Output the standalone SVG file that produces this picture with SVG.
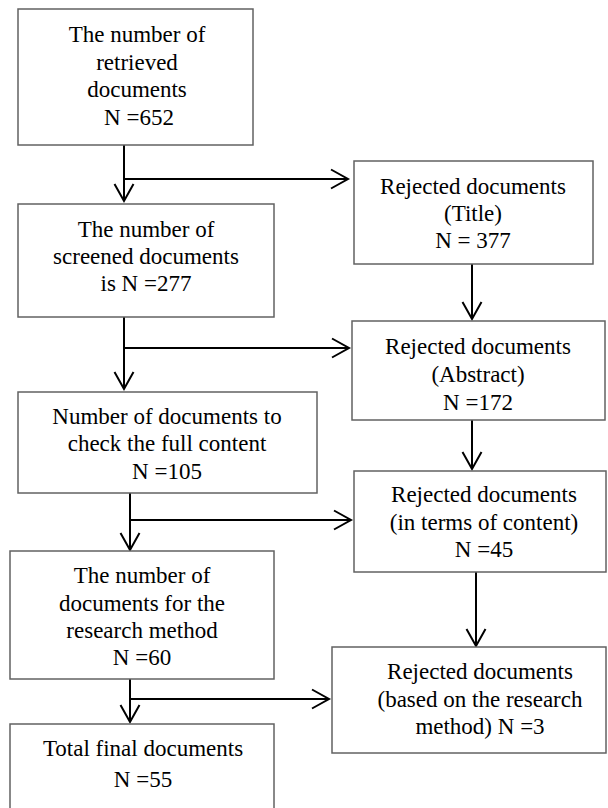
<svg xmlns="http://www.w3.org/2000/svg" width="608" height="808" viewBox="0 0 608 808">
<style>
.box{fill:#fff;stroke:#626262;stroke-width:1.5}
.c{stroke:#000;stroke-width:2;fill:none}
</style>
<defs>
<marker id="ah" markerUnits="userSpaceOnUse" markerWidth="24" markerHeight="24" viewBox="-20 -12 24 24" refX="0" refY="0" orient="auto">
<path d="M-17,-9.5 L0,0 L-17,9.5" fill="none" stroke="#000" stroke-width="2"/>
</marker>
</defs>
<rect width="608" height="808" fill="#fff"/>
<g id="connectors">
<line class="c" x1="124" y1="145" x2="124" y2="201" marker-end="url(#ah)"/>
<line class="c" x1="123" y1="179" x2="348" y2="179" marker-end="url(#ah)"/>
<line class="c" x1="472" y1="264" x2="472" y2="319" marker-end="url(#ah)"/>
<line class="c" x1="124" y1="317" x2="124" y2="389" marker-end="url(#ah)"/>
<line class="c" x1="123" y1="348" x2="349" y2="348" marker-end="url(#ah)"/>
<line class="c" x1="472" y1="420" x2="472" y2="469" marker-end="url(#ah)"/>
<line class="c" x1="130" y1="493" x2="130" y2="550" marker-end="url(#ah)"/>
<line class="c" x1="129" y1="520" x2="351" y2="520" marker-end="url(#ah)"/>
<line class="c" x1="476" y1="572" x2="476" y2="646" marker-end="url(#ah)"/>
<line class="c" x1="130" y1="679" x2="130" y2="722" marker-end="url(#ah)"/>
<line class="c" x1="129" y1="699" x2="329" y2="699" marker-end="url(#ah)"/>
</g>
<g font-family="Liberation Serif, Times New Roman, serif" font-size="23" fill="#000" text-anchor="middle">
<g id="n1">
<rect class="box" x="18" y="9" width="235" height="136"/>
<text x="137" y="42">The number of</text>
<text x="137" y="70">retrieved</text>
<text x="137" y="97">documents</text>
<text x="139" y="125">N =652</text>
</g>
<g id="r1">
<rect class="box" x="354" y="161" width="239" height="103"/>
<text x="473" y="194">Rejected documents</text>
<text x="473" y="221">(Title)</text>
<text x="473" y="248">N = 377</text>
</g>
<g id="n2">
<rect class="box" x="18" y="204" width="256" height="113"/>
<text x="146" y="237">The number of</text>
<text x="146" y="264">screened documents</text>
<text x="146" y="291">is N =277</text>
</g>
<g id="r2">
<rect class="box" x="352" y="321" width="253" height="99"/>
<text x="478" y="354">Rejected documents</text>
<text x="478" y="382">(Abstract)</text>
<text x="478" y="410">N =172</text>
</g>
<g id="n3">
<rect class="box" x="18" y="392" width="299" height="101"/>
<text x="167" y="424">Number of documents to</text>
<text x="167" y="451">check the full content</text>
<text x="167" y="479">N =105</text>
</g>
<g id="r3">
<rect class="box" x="354" y="471" width="252" height="101"/>
<text x="484" y="502">Rejected documents</text>
<text x="484" y="530">(in terms of content)</text>
<text x="484" y="557">N =45</text>
</g>
<g id="n4">
<rect class="box" x="10" y="551" width="264" height="128"/>
<text x="142" y="583">The number of</text>
<text x="142" y="611">documents for the</text>
<text x="142" y="638">research method</text>
<text x="142" y="665">N =60</text>
</g>
<g id="r4">
<rect class="box" x="332" y="647" width="274" height="106"/>
<text x="480" y="679">Rejected documents</text>
<text x="480" y="707">(based on the research</text>
<text x="480" y="734">method) N =3</text>
</g>
<g id="n5">
<rect class="box" x="10" y="724" width="264" height="90"/>
<text x="143" y="756">Total final documents</text>
<text x="143" y="787">N =55</text>
</g>
</g>
</svg>
